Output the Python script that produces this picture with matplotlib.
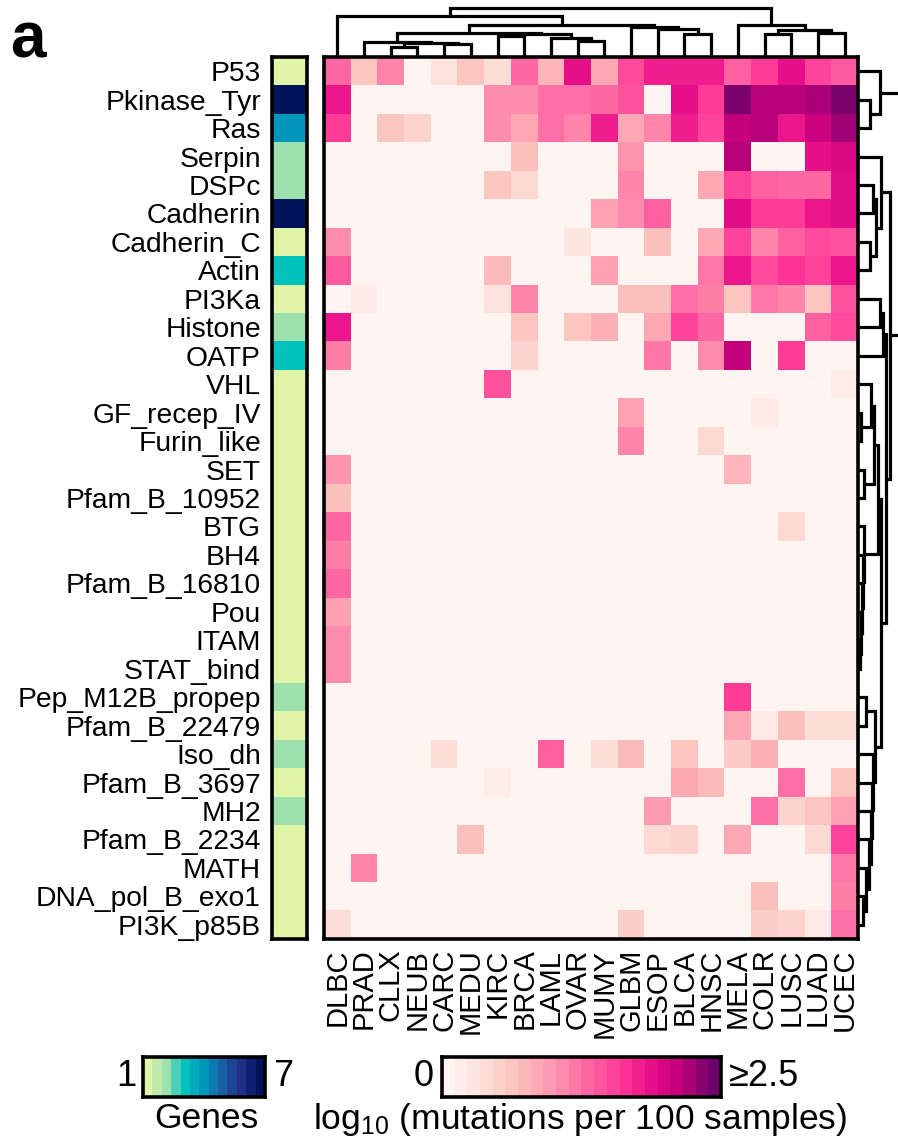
import numpy as np
import matplotlib
matplotlib.use("Agg")
import matplotlib.pyplot as plt
from matplotlib.colors import LinearSegmentedColormap

plt.rcParams["font.family"] = ["Liberation Sans", "DejaVu Sans"]
plt.rcParams["mathtext.fontset"] = "custom"
plt.rcParams["mathtext.rm"] = "Liberation Sans"
plt.rcParams["mathtext.default"] = "regular"

# ── data ───────────────────────────────────────────────────────────────────────
domains = [
    "P53", "Pkinase_Tyr", "Ras", "Serpin", "DSPc", "Cadherin", "Cadherin_C",
    "Actin", "PI3Ka", "Histone", "OATP", "VHL", "GF_recep_IV", "Furin_like",
    "SET", "Pfam_B_10952", "BTG", "BH4", "Pfam_B_16810", "Pou", "ITAM",
    "STAT_bind", "Pep_M12B_propep", "Pfam_B_22479", "Iso_dh", "Pfam_B_3697",
    "MH2", "Pfam_B_2234", "MATH", "DNA_pol_B_exo1", "PI3K_p85B",
]
cancers = [
    "DLBC", "PRAD", "CLLX", "NEUB", "CARC", "MEDU", "KIRC", "BRCA", "LAML", "OVAR",
    "MUMY", "GLBM", "ESOP", "BLCA", "HNSC", "MELA", "COLR", "LUSC", "LUAD", "UCEC",
]
# number of genes per domain family
genes = [1, 7, 4, 2, 2, 7, 1, 3, 1, 2, 3, 1, 1, 1, 1, 1, 1, 1, 1, 1, 1, 1,
         2, 1, 2, 1, 2, 1, 1, 1, 1]

# log10(mutations per 100 samples), rows = domains, cols = cancers
mut = [
    [1.30, 0.60, 1.10, 0, 0.30, 0.60, 0.35, 1.30, 0.75, 1.90, 0.85, 1.50, 1.80, 1.80, 1.80, 1.35, 1.60, 1.90, 1.55, 1.40],
    [1.85, 0, 0, 0, 0, 0, 1.05, 1.05, 1.25, 1.25, 1.30, 1.45, 0, 1.90, 1.60, 2.45, 2.20, 2.20, 2.25, 2.45],
    [1.60, 0, 0.60, 0.45, 0, 0, 1.05, 0.85, 1.25, 1.10, 1.80, 0.85, 1.10, 1.80, 1.55, 2.15, 2.20, 1.85, 2.10, 2.30],
    [0, 0, 0, 0, 0, 0, 0, 0.65, 0, 0, 0, 1.00, 0, 0, 0, 2.20, 0, 0, 1.90, 2.00],
    [0, 0, 0, 0, 0, 0, 0.60, 0.40, 0, 0, 0, 1.10, 0, 0, 0.85, 1.55, 1.35, 1.30, 1.30, 1.95],
    [0, 0, 0, 0, 0, 0, 0, 0, 0, 0, 0.90, 1.05, 1.35, 0, 0, 1.95, 1.60, 1.60, 1.85, 1.95],
    [1.05, 0, 0, 0, 0, 0, 0, 0, 0, 0.25, 0, 0, 0.65, 0, 0.85, 1.55, 1.10, 1.35, 1.50, 1.45],
    [1.40, 0, 0, 0, 0, 0, 0.70, 0, 0, 0, 0.90, 0, 0, 0, 1.20, 1.85, 1.50, 1.65, 1.55, 1.85],
    [0, 0.15, 0, 0, 0, 0, 0.30, 1.10, 0, 0, 0, 0.65, 0.65, 1.25, 1.15, 0.60, 1.20, 1.10, 0.60, 1.45],
    [1.85, 0, 0, 0, 0, 0, 0, 0.60, 0, 0.60, 0.80, 0, 0.85, 1.55, 1.30, 0, 0, 0, 1.35, 1.50],
    [1.15, 0, 0, 0, 0, 0, 0, 0.45, 0, 0, 0, 0, 1.20, 0, 1.05, 2.15, 0, 1.60, 0, 0],
    [0, 0, 0, 0, 0, 0, 1.45, 0, 0, 0, 0, 0, 0, 0, 0, 0, 0, 0, 0, 0.12],
    [0, 0, 0, 0, 0, 0, 0, 0, 0, 0, 0, 0.90, 0, 0, 0, 0, 0.15, 0, 0, 0],
    [0, 0, 0, 0, 0, 0, 0, 0, 0, 0, 0, 1.10, 0, 0, 0.40, 0, 0, 0, 0, 0],
    [1.00, 0, 0, 0, 0, 0, 0, 0, 0, 0, 0, 0, 0, 0, 0, 0.75, 0, 0, 0, 0],
    [0.65, 0, 0, 0, 0, 0, 0, 0, 0, 0, 0, 0, 0, 0, 0, 0, 0, 0, 0, 0],
    [1.30, 0, 0, 0, 0, 0, 0, 0, 0, 0, 0, 0, 0, 0, 0, 0, 0, 0.40, 0, 0],
    [1.15, 0, 0, 0, 0, 0, 0, 0, 0, 0, 0, 0, 0, 0, 0, 0, 0, 0, 0, 0],
    [1.30, 0, 0, 0, 0, 0, 0, 0, 0, 0, 0, 0, 0, 0, 0, 0, 0, 0, 0, 0],
    [0.90, 0, 0, 0, 0, 0, 0, 0, 0, 0, 0, 0, 0, 0, 0, 0, 0, 0, 0, 0],
    [1.05, 0, 0, 0, 0, 0, 0, 0, 0, 0, 0, 0, 0, 0, 0, 0, 0, 0, 0, 0],
    [1.05, 0, 0, 0, 0, 0, 0, 0, 0, 0, 0, 0, 0, 0, 0, 0, 0, 0, 0, 0],
    [0, 0, 0, 0, 0, 0, 0, 0, 0, 0, 0, 0, 0, 0, 0, 1.60, 0, 0, 0, 0],
    [0, 0, 0, 0, 0, 0, 0, 0, 0, 0, 0, 0, 0, 0, 0, 0.85, 0.20, 0.65, 0.35, 0.35],
    [0, 0, 0, 0, 0.35, 0, 0, 0, 1.35, 0, 0.35, 0.70, 0, 0.60, 0, 0.55, 0.80, 0, 0, 0],
    [0, 0, 0, 0, 0, 0, 0.12, 0, 0, 0, 0, 0, 0, 0.85, 0.70, 0, 0, 1.25, 0, 0.60],
    [0, 0, 0, 0, 0, 0, 0, 0, 0, 0, 0, 0, 0.95, 0, 0, 0, 1.25, 0.45, 0.60, 0.90],
    [0, 0, 0, 0, 0, 0.65, 0, 0, 0, 0, 0, 0, 0.40, 0.45, 0, 0.85, 0, 0, 0.40, 1.55],
    [0, 1.10, 0, 0, 0, 0, 0, 0, 0, 0, 0, 0, 0, 0, 0, 0, 0, 0, 0, 1.20],
    [0, 0, 0, 0, 0, 0, 0, 0, 0, 0, 0, 0, 0, 0, 0, 0, 0.65, 0, 0, 1.15],
    [0.35, 0, 0, 0, 0, 0, 0, 0, 0, 0, 0, 0.50, 0, 0, 0, 0, 0.50, 0.45, 0.15, 1.25],
]

# dendrogram merges: (child a, child b, height); index >= n points to earlier merge
col_links = [
    (2, 3, 10.5), (4, 5, 12.7), (20, 21, 13.7), (1, 22, 15),
    (6, 7, 21), (9, 10, 16), (8, 25, 19), (24, 26, 23), (23, 27, 24),
    (13, 14, 23), (12, 29, 28), (11, 30, 30.5), (28, 31, 32), (0, 32, 41),
    (16, 17, 23), (18, 19, 24), (34, 35, 27), (15, 36, 32), (33, 37, 49),
]
row_links = [
    (1, 2, 12), (0, 31, 22), (4, 5, 15), (6, 7, 12), (33, 34, 18), (3, 35, 23),
    (8, 9, 22), (37, 10, 25), (12, 13, 3), (11, 39, 13), (14, 15, 6), (40, 41, 16),
    (20, 21, 1.5), (19, 43, 2.5), (18, 44, 3.5), (17, 45, 4.5), (16, 46, 5.5),
    (42, 47, 20), (22, 23, 8), (29, 30, 5), (28, 50, 8), (27, 51, 11), (26, 52, 13),
    (25, 53, 14), (24, 54, 15), (49, 55, 17), (48, 56, 23), (38, 57, 28),
    (36, 58, 32), (32, 59, 45),
]

# ── colour maps ────────────────────────────────────────────────────────────────
heat_cmap = LinearSegmentedColormap.from_list("mut", [
    (0.00, "#fff4f0"), (0.12, "#fde2dd"), (0.25, "#fcc3bd"), (0.36, "#ffa3b5"),
    (0.46, "#ff7ea8"), (0.56, "#ff5aa0"), (0.66, "#ff3396"), (0.76, "#e8108a"),
    (0.86, "#c6007c"), (1.00, "#6e006c"),
])
gene_cmap = LinearSegmentedColormap.from_list("genes", [
    "#e0f5a8", "#9fe0b0", "#00c2bc", "#0096bc", "#1a5fa5", "#222e88", "#00145a",
])

# ── figure ─────────────────────────────────────────────────────────────────────
W, H = 898, 1145
fig = plt.figure(figsize=(W / 100, H / 100), dpi=100)
FS = 20.3
LW = 2.3


def px_axes(x0, y0, x1, y1):
    return fig.add_axes([x0 / W, 1 - y1 / H, (x1 - x0) / W, (y1 - y0) / H])


def box(ax, lw=2.6):
    for s in ax.spines.values():
        s.set_linewidth(lw)
        s.set_color("black")


def draw_dendro(ax, links, n, orient):
    pos = list(range(n))
    hgt = [0.0] * n
    for a, b, h in links:
        xs = [pos[a], pos[a], pos[b], pos[b]]
        ys = [hgt[a], h, h, hgt[b]]
        if orient == "right":
            xs, ys = ys, xs
        ax.plot(xs, ys, color="black", lw=LW, solid_joinstyle="miter",
                solid_capstyle="butt", clip_on=True)
        pos.append((pos[a] + pos[b]) / 2)
        hgt.append(h)
    ax.axis("off")


top, bot = 57, 939

# heatmap
ax = px_axes(324, top, 858, bot)
ax.imshow(np.array(mut), cmap=heat_cmap, vmin=0, vmax=2.5, aspect="auto",
          interpolation="nearest")
box(ax)
ax.set_yticks([])
ax.set_xticks(range(len(cancers)))
ax.set_xticklabels(cancers, rotation=90, fontsize=21)
ax.tick_params(axis="x", length=0, pad=7)

# gene-count side bar
axg = px_axes(272, top, 307, bot)
axg.imshow(np.array(genes)[:, None], cmap=gene_cmap, vmin=1, vmax=7,
           aspect="auto", interpolation="nearest")
box(axg)
axg.set_xticks([])
axg.set_yticks(range(len(domains)))
axg.set_yticklabels(domains, fontsize=FS)
axg.tick_params(axis="y", length=0, pad=8)

# column dendrogram
axc = px_axes(324, 0, 858, top)
draw_dendro(axc, col_links, len(cancers), "top")
axc.set_xlim(-0.5, len(cancers) - 0.5)
axc.set_ylim(0, top)

# row dendrogram
axr = px_axes(858, top, 898, bot)
draw_dendro(axr, row_links, len(domains), "right")
axr.set_ylim(len(domains) - 0.5, -0.5)
axr.set_xlim(0, 40)

# legends
axl1 = px_axes(143, 1057, 265, 1097)
axl1.imshow(np.linspace(1, 7, 13)[None, :], cmap=gene_cmap, vmin=1, vmax=7,
            aspect="auto", interpolation="nearest")
box(axl1)
axl1.set_xticks([]); axl1.set_yticks([])

axl2 = px_axes(442, 1057, 721, 1097)
axl2.imshow(np.linspace(0, 2.5, 22)[None, :], cmap=heat_cmap, vmin=0, vmax=2.5,
            aspect="auto", interpolation="nearest")
box(axl2)
axl2.set_xticks([]); axl2.set_yticks([])

LFS = 26
fig.text(136 / W, 1 - 1077 / H, "1", fontsize=LFS, ha="right", va="center")
fig.text(273 / W, 1 - 1077 / H, "7", fontsize=LFS, ha="left", va="center")
fig.text(434 / W, 1 - 1077 / H, "0", fontsize=LFS, ha="right", va="center")
fig.text(729 / W, 1 - 1077 / H, "≥2.5", fontsize=LFS, ha="left", va="center")
fig.text(206 / W, 1 - 1119 / H, "Genes", fontsize=25.5, ha="center", va="center")
fig.text(580 / W, 1 - 1119 / H, "log$_{10}$ (mutations per 100 samples)",
         fontsize=25.5, ha="center", va="center")

fig.text(10 / W, 1 - 57 / H, "a", fontsize=46, fontweight="bold", ha="left",
         va="baseline")

fig.savefig("out.png", dpi=100)
